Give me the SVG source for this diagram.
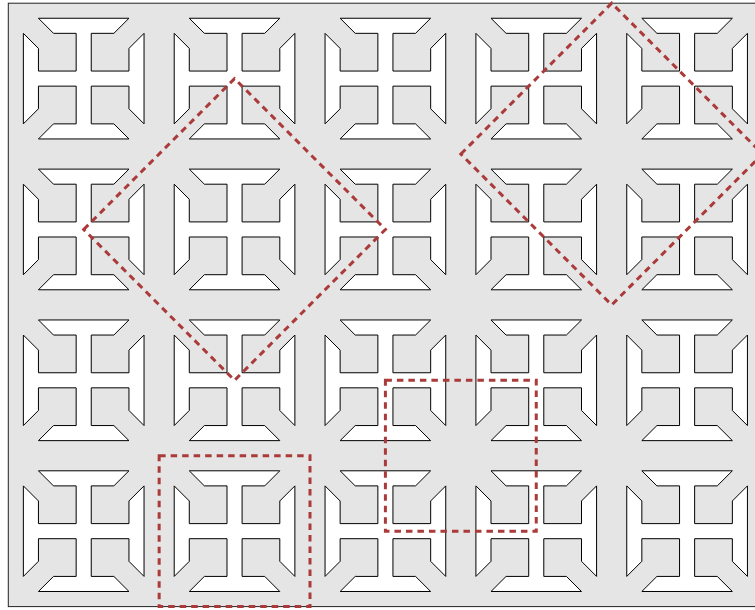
<svg xmlns="http://www.w3.org/2000/svg" xmlns:xlink="http://www.w3.org/1999/xlink" width="755" height="610" viewBox="0 0 755 610">
<style>
.bg{fill:#e5e5e5;stroke:#222;stroke-width:1}
.tile{fill:#ffffff;stroke:#000;stroke-width:1;stroke-linejoin:miter}
.sel{fill:none;stroke:#ab3a3a;stroke-width:3;stroke-dasharray:6.5 5}
</style>
<defs>
<path id="cross" class="tile" d="M-45.26,-60.34 H45.26 L30.17,-45.26 H7.54 V-7.54 H45.26 V-30.17 L60.34,-45.26 V45.26 L45.26,30.17 V7.54 H7.54 V45.26 H30.17 L45.26,60.34 H-45.26 L-30.17,45.26 H-7.54 V7.54 H-45.26 V30.17 L-60.34,45.26 V-45.26 L-45.26,-30.17 V-7.54 H-7.54 V-45.26 H-30.17 Z"/>
</defs>
<rect id="background" class="bg" x="8.3" y="3.2" width="754.3" height="603.4"/>
<g id="tiles">
<g id="t00"><use xlink:href="#cross" href="#cross" x="83.7" y="78.6"/></g>
<g id="t10"><use xlink:href="#cross" href="#cross" x="234.55" y="78.6"/></g>
<g id="t20"><use xlink:href="#cross" href="#cross" x="385.4" y="78.6"/></g>
<g id="t30"><use xlink:href="#cross" href="#cross" x="536.25" y="78.6"/></g>
<g id="t40"><use xlink:href="#cross" href="#cross" x="687.1" y="78.6"/></g>
<g id="t01"><use xlink:href="#cross" href="#cross" x="83.7" y="229.45"/></g>
<g id="t11"><use xlink:href="#cross" href="#cross" x="234.55" y="229.45"/></g>
<g id="t21"><use xlink:href="#cross" href="#cross" x="385.4" y="229.45"/></g>
<g id="t31"><use xlink:href="#cross" href="#cross" x="536.25" y="229.45"/></g>
<g id="t41"><use xlink:href="#cross" href="#cross" x="687.1" y="229.45"/></g>
<g id="t02"><use xlink:href="#cross" href="#cross" x="83.7" y="380.3"/></g>
<g id="t12"><use xlink:href="#cross" href="#cross" x="234.55" y="380.3"/></g>
<g id="t22"><use xlink:href="#cross" href="#cross" x="385.4" y="380.3"/></g>
<g id="t32"><use xlink:href="#cross" href="#cross" x="536.25" y="380.3"/></g>
<g id="t42"><use xlink:href="#cross" href="#cross" x="687.1" y="380.3"/></g>
<g id="t03"><use xlink:href="#cross" href="#cross" x="83.7" y="531.15"/></g>
<g id="t13"><use xlink:href="#cross" href="#cross" x="234.55" y="531.15"/></g>
<g id="t23"><use xlink:href="#cross" href="#cross" x="385.4" y="531.15"/></g>
<g id="t33"><use xlink:href="#cross" href="#cross" x="536.25" y="531.15"/></g>
<g id="t43"><use xlink:href="#cross" href="#cross" x="687.1" y="531.15"/></g>
</g>
<g id="regions">
<polygon id="diamond1" class="sel" points="83.7,229.45 234.55,78.6 385.4,229.45 234.55,380.3"/>
<polygon id="diamond2" class="sel" points="460.85,154.05 611.7,3.2 762.55,154.05 611.7,304.9"/>
<rect id="square1" class="sel" x="159.15" y="455.75" width="150.85" height="150.85"/>
<rect id="square2" class="sel" x="385.4" y="380.3" width="150.85" height="150.85"/>
</g>
</svg>
